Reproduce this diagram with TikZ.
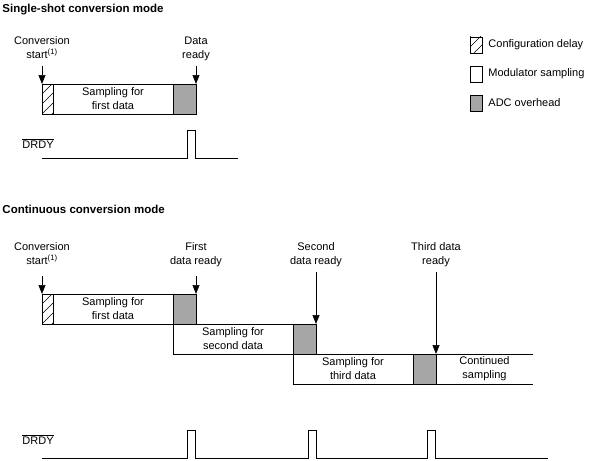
\documentclass[tikz,border=0pt]{standalone}
\usepackage{fontspec}
\setmainfont{Liberation Sans}
\usetikzlibrary{arrows.meta}

\begin{document}
\begin{tikzpicture}[x=1pt, y=-1pt, line width=0.9pt,
  lbl/.style={font=\fontsize{11}{14}\selectfont, align=center, inner sep=0pt},
  ttl/.style={font=\fontsize{11.5}{14}\selectfont\bfseries, inner sep=0pt, anchor=base west},
  arr/.style={line width=0.7pt, -{Triangle[length=9pt, width=7pt]}},
  ovh/.style={draw, fill=black!35},
  sig/.style={line width=1pt}]

\useasboundingbox (0,0) rectangle (591,460);

% hatched block: x1, y1, x2, y2
\newcommand\hatchblk[4]{%
  \begin{scope}
    \clip (#1,#2) rectangle (#3,#4);
    \foreach \k in {0,...,6} \draw[line width=0.6pt] (#1,{#2+10*\k}) -- ++(20,-20);
  \end{scope}
  \draw (#1,#2) rectangle (#3,#4);}

\def\Xa{42}
\def\Xh{53}
\def\Xb{173}
\def\Xc{196}

%%% single-shot conversion mode
\node[ttl] (ttlsingle) at (2,13) {Single-shot conversion mode};

\node[lbl, anchor=north] (sstart) at (\Xa,36) {Conversion\\start\textsuperscript{(1)}};
\node[lbl, anchor=north] (sready) at (\Xc,36) {Data\\ready};
\coordinate (sstartA) at (\Xa,66);
\coordinate (sstartB) at (\Xa,84);
\coordinate (sreadyA) at (\Xc,66);
\coordinate (sreadyB) at (\Xc,84);

\draw (\Xa,84) rectangle (\Xc,114);
\hatchblk{\Xa}{84}{\Xh}{114}
\draw[ovh] (\Xb,84) rectangle (\Xc,114);
\node[lbl] (ssamp) at ({(\Xh+\Xb)/2},99) {Sampling for\\first data};

\draw[arr] (sstartA) -- (sstartB);
\draw[arr] (sreadyA) -- (sreadyB);

\node[lbl, anchor=base west] (sdrdy) at (22,148) {$\overline{\mbox{DRDY}}$};
\draw[sig] (42,158) -- (187,158) -- (187,130) -- (195,130) -- (195,158) -- (238,158);

%%% legend
\hatchblk{470}{37}{482}{53}
\node[lbl, anchor=west] (lcfg) at (488,45) {Configuration delay};
\draw (470,66) rectangle (482,82);
\node[lbl, anchor=west] (lmod) at (488,74) {Modulator sampling};
\draw[ovh] (470,95) rectangle (482,111);
\node[lbl, anchor=west] (ladc) at (488,103) {ADC overhead};

%%% continuous conversion mode
\node[ttl] (ttlcont) at (2,213) {Continuous conversion mode};

\def\Xd{293}
\def\Xe{316}
\def\Xf{413}
\def\Xg{436}
\def\Xend{533}

\node[lbl, anchor=north] (cstart) at (\Xa,242) {Conversion\\start\textsuperscript{(1)}};
\node[lbl, anchor=north] (cfirst) at (\Xc,242) {First\\data ready};
\node[lbl, anchor=north] (csecond) at (\Xe,242) {Second\\data ready};
\node[lbl, anchor=north] (cthird) at (\Xg,242) {Third data\\ready};

% first data
\draw (\Xa,294) rectangle (\Xc,324);
\hatchblk{\Xa}{294}{\Xh}{324}
\draw[ovh] (\Xb,294) rectangle (\Xc,324);
\node[lbl] (csamp1) at ({(\Xh+\Xb)/2},309) {Sampling for\\first data};

% second data
\draw (\Xb,324) rectangle (\Xe,354);
\draw[ovh] (\Xd,324) rectangle (\Xe,354);
\node[lbl] (csamp2) at ({(\Xb+\Xd)/2},339) {Sampling for\\second data};

% third data, open to the right
\draw (\Xend,354) -- (\Xd,354) -- (\Xd,384) -- (\Xend,384);
\draw[ovh] (\Xf,354) rectangle (\Xg,384);
\node[lbl] (csamp3) at ({(\Xd+\Xf)/2},369) {Sampling for\\third data};
\node[lbl] (ccont) at ({(\Xg+\Xend)/2},369) {Continued\\sampling};

\coordinate (cstartA) at (\Xa,276);
\coordinate (cstartB) at (\Xa,294);
\coordinate (cfirstA) at (\Xc,276);
\coordinate (cfirstB) at (\Xc,294);
\coordinate (csecondA) at (\Xe,272);
\coordinate (csecondB) at (\Xe,324);
\coordinate (cthirdA) at (\Xg,272);
\coordinate (cthirdB) at (\Xg,354);

\draw[arr] (cstartA) -- (cstartB);
\draw[arr] (cfirstA) -- (cfirstB);
\draw[arr] (csecondA) -- (csecondB);
\draw[arr] (cthirdA) -- (cthirdB);

\node[lbl, anchor=base west] (cdrdy) at (22,444) {$\overline{\mbox{DRDY}}$};
\draw[sig] (42,458) -- (187,458) -- (187,430) -- (195,430) -- (195,458)
  -- (308,458) -- (308,430) -- (316,430) -- (316,458)
  -- (427,458) -- (427,430) -- (435,430) -- (435,458) -- (548,458);

\end{tikzpicture}
\end{document}
